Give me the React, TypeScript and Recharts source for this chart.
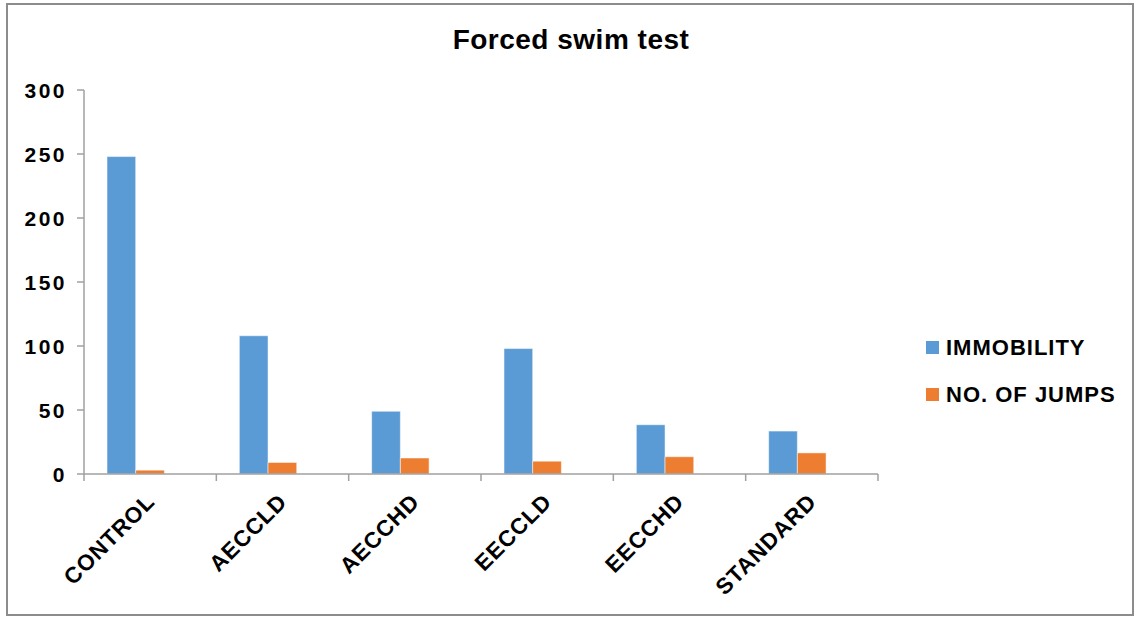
import React from 'react';
import { BarChart, Bar, XAxis, YAxis, Legend } from 'recharts';

const categories = ['CONTROL', 'AECCLD', 'AECCHD', 'EECCLD', 'EECCHD', 'STANDARD'];
const immobility = [248, 108, 49, 98, 38.5, 33.5];
const jumps = [3, 9, 12.5, 10, 13.5, 16.5];
const yTicks = [0, 50, 100, 150, 200, 250, 300];
const seriesNames = ['IMMOBILITY', 'NO. OF JUMPS'];
const seriesColors = ['#5B9BD5', '#ED7D31'];

const data = categories.map((c, i) => ({ name: c, immobility: immobility[i], jumps: jumps[i] }));

const FONT = '"Liberation Sans", Arial, sans-serif';
const AXIS = '#a0a0a0';

const XTick = (props: any) => {
  const { x, y, payload, index } = props;
  const off = payload && typeof payload.offset === 'number' ? payload.offset : 66;
  const lx = x + 6;
  const ly = y + 29;
  return (
    <g>
      <line x1={x - off} x2={x - off} y1={y} y2={y + 7} stroke={AXIS} strokeWidth={1.5} />
      {index === categories.length - 1 && (
        <line x1={x + off} x2={x + off} y1={y} y2={y + 7} stroke={AXIS} strokeWidth={1.5} />
      )}
      <text
        x={lx}
        y={ly}
        transform={`rotate(-45, ${lx}, ${ly})`}
        textAnchor="end"
        fontFamily={FONT}
        fontWeight="bold"
        fontSize={22.5}
        letterSpacing={0.9}
        fill="#000"
      >
        {payload.value}
      </text>
    </g>
  );
};

const YTick = (props: any) => {
  const { x, y, payload } = props;
  return (
    <text
      x={x - 8}
      y={y}
      textAnchor="end"
      dominantBaseline="central"
      fontFamily={FONT}
      fontWeight="bold"
      fontSize={21}
      letterSpacing={2.5}
      fill="#000"
    >
      {payload.value}
    </text>
  );
};

const LegendContent = () => (
  <div style={{ fontFamily: FONT, fontWeight: 'bold', fontSize: 22, letterSpacing: 1, color: '#000' }}>
    {seriesNames.map((n, i) => (
      <div key={n} style={{ display: 'flex', alignItems: 'center', height: 46.7, whiteSpace: 'nowrap' }}>
        <div style={{ width: 13, height: 13, background: seriesColors[i], marginRight: 7 }} />
        <span style={{ lineHeight: '22px' }}>{n}</span>
      </div>
    ))}
  </div>
);

export default function App() {
  return (
    <div style={{ position: 'absolute', left: 0, top: 0, width: 1142, height: 622, background: '#fff' }}>
      <div
        style={{
          position: 'absolute',
          left: 6,
          top: 3,
          width: 1128,
          height: 613,
          border: '2px solid #8c8c8c',
          boxSizing: 'border-box',
        }}
      />
      <div
        style={{
          position: 'absolute',
          left: 0,
          width: 1142,
          top: 26,
          textAlign: 'center',
          fontFamily: FONT,
          fontWeight: 'bold',
          fontSize: 28,
          letterSpacing: 0.5,
          lineHeight: '28px',
          color: '#000',
        }}
      >
        <span>Forced swim test</span>
      </div>
      <div style={{ position: 'absolute', left: 0, top: 0 }}>
        <BarChart
          width={1142}
          height={622}
          data={data}
          margin={{ top: 90, right: 264, left: 0, bottom: 0 }}
          barGap={0}
          barSize={28.7}
        >
          <XAxis
            dataKey="name"
            interval={0}
            height={148}
            tickLine={false}
            tickSize={0}
            tickMargin={0}
            axisLine={{ stroke: AXIS, strokeWidth: 1.5 }}
            tick={<XTick />}
          />
          <YAxis
            domain={[0, 300]}
            ticks={yTicks}
            width={84}
            tickSize={7}
            tickMargin={2}
            tickLine={{ stroke: AXIS, strokeWidth: 1.5 }}
            axisLine={{ stroke: AXIS, strokeWidth: 1.5 }}
            tick={<YTick />}
          />
          <Legend
            align="center"
            verticalAlign="middle"
            content={<LegendContent />}
            wrapperStyle={{ left: 926, top: 324.6, width: 214, height: 94 }}
          />
          <Bar dataKey="immobility" name={seriesNames[0]} fill={seriesColors[0]} stroke="#fff" strokeOpacity={0.5} strokeWidth={1} isAnimationActive={false} />
          <Bar dataKey="jumps" name={seriesNames[1]} fill={seriesColors[1]} stroke="#fff" strokeOpacity={0.5} strokeWidth={1} isAnimationActive={false} />
          <Bar dataKey="spacer" legendType="none" fill="none" isAnimationActive={false} />
        </BarChart>
      </div>
    </div>
  );
}
